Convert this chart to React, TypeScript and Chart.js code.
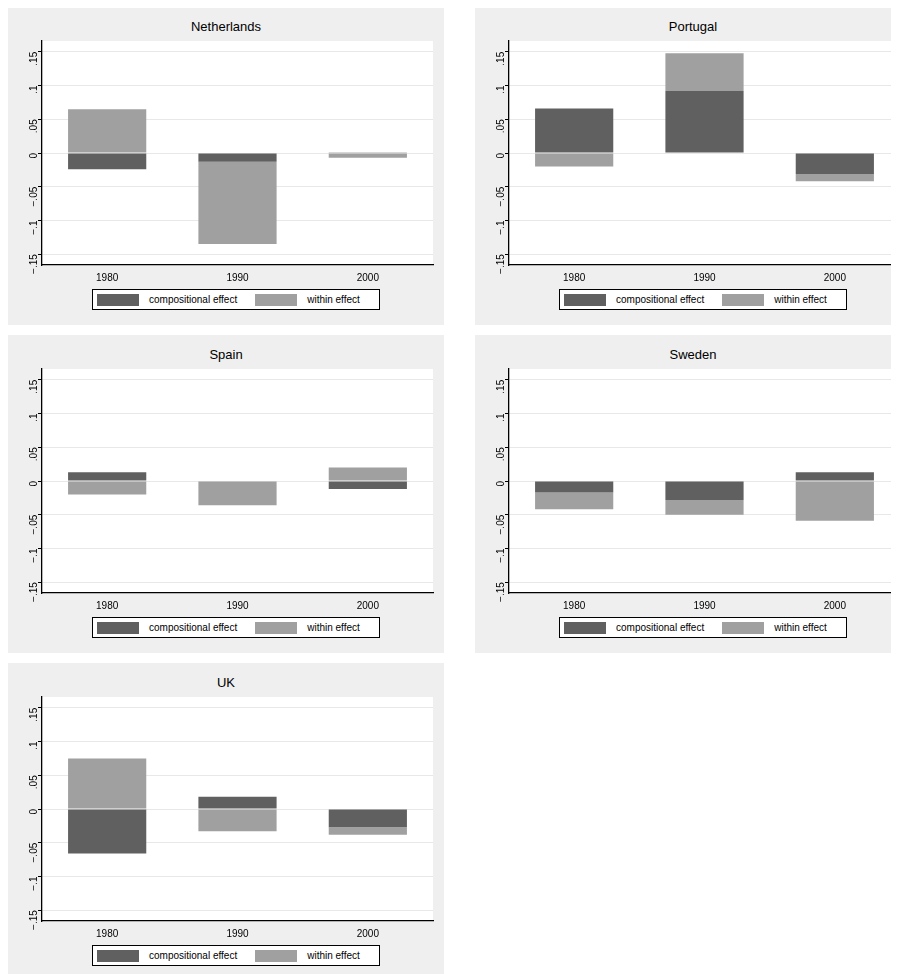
import { useEffect, useRef } from 'react';
import { Chart, registerables } from 'chart.js';

Chart.register(...registerables);

const years = ['1980', '1990', '2000'];
const yTicks = [-0.15, -0.1, -0.05, 0, 0.05, 0.1, 0.15];

const netherlandsComp = [-0.024, -0.013, 0.001];
const netherlandsWithin = [0.065, -0.122, -0.007];
const portugalComp = [0.066, 0.092, -0.031];
const portugalWithin = [-0.02, 0.056, -0.011];
const spainComp = [0.013, 0, -0.012];
const spainWithin = [-0.02, -0.036, 0.02];
const swedenComp = [-0.017, -0.028, 0.013];
const swedenWithin = [-0.025, -0.022, -0.059];
const ukComp = [-0.066, 0.018, -0.027];
const ukWithin = [0.075, -0.033, -0.011];

const DARK = '#606060';
const LIGHT = '#a0a0a0';

const fmt = (v: number) => {
  if (Math.abs(v) < 1e-9) return '0';
  const s = Math.abs(v).toString().replace(/^0/, '');
  return v < 0 ? '\u2212' + s : s;
};

// white plot region on the grey panel
const whiteArea = {
  id: 'whiteArea',
  beforeDraw(chart: Chart) {
    const { ctx, chartArea } = chart;
    ctx.save();
    ctx.fillStyle = '#fff';
    ctx.fillRect(chartArea.left, chartArea.top, chartArea.right - chartArea.left, chartArea.bottom - chartArea.top);
    ctx.restore();
  },
};

interface PanelProps {
  title: string;
  comp: number[];
  within: number[];
  left: number;
  top: number;
}

const Panel = ({ title, comp, within, left, top }: PanelProps) => {
  const canvasRef = useRef<HTMLCanvasElement | null>(null);

  useEffect(() => {
    if (!canvasRef.current) return;
    const chart = new Chart(canvasRef.current, {
      type: 'bar',
      data: {
        labels: years,
        datasets: [
          { label: 'compositional effect', data: comp, backgroundColor: DARK },
          { label: 'within effect', data: within, backgroundColor: LIGHT },
        ],
      },
      plugins: [whiteArea],
      options: {
        animation: false,
        responsive: false,
        layout: { padding: { left: 10, right: 11, top: 7 } },
        datasets: { bar: { categoryPercentage: 1, barPercentage: 0.6 } },
        plugins: { legend: { display: false }, tooltip: { enabled: false } },
        scales: {
          x: {
            stacked: true,
            grid: { display: false, drawOnChartArea: false, tickLength: 4, tickColor: '#000' },
            border: { color: '#000', width: 1.3 },
            ticks: { color: '#000', font: { family: 'Liberation Sans, Arial', size: 10 } },
          },
          y: {
            stacked: true,
            min: -0.166,
            max: 0.166,
            afterBuildTicks: (scale) => {
              scale.ticks = yTicks.map((v) => ({ value: v }));
            },
            grid: { color: '#e8e8e8', tickColor: '#000', tickLength: 4, lineWidth: 1 },
            border: { color: '#000', width: 1.3 },
            ticks: {
              color: '#000',
              minRotation: 90,
              maxRotation: 90,
              padding: 4,
              font: { family: 'Liberation Sans, Arial', size: 10 },
              callback: (v) => fmt(Number(v)),
            },
          },
        },
      },
    });
    return () => chart.destroy();
  }, [comp, within]);

  return (
    <div
      style={{
        position: 'absolute',
        left,
        top,
        width: 436,
        height: 318,
        background: '#efefef',
        fontFamily: 'Liberation Sans, Arial, sans-serif',
      }}
    >
      <div style={{ position: 'absolute', top: 12, width: 436, textAlign: 'center', fontSize: 13 }}>
        {title}
      </div>
      <canvas
        ref={canvasRef}
        width={436}
        height={256}
        style={{ position: 'absolute', left: 0, top: 24, width: 436, height: 256 }}
      />
      <div
        style={{
          position: 'absolute',
          left: 84,
          top: 282,
          width: 286,
          height: 19,
          background: '#fff',
          border: '1px solid #000',
          fontSize: 10,
          display: 'flex',
          alignItems: 'center',
        }}
      >
        <span style={{ width: 42, height: 12, background: DARK, marginLeft: 4 }} />
        <span style={{ marginLeft: 10 }}>compositional effect</span>
        <span style={{ width: 42, height: 12, background: LIGHT, marginLeft: 18 }} />
        <span style={{ marginLeft: 10 }}>within effect</span>
      </div>
    </div>
  );
};

export default function App() {
  return (
    <div style={{ position: 'relative', width: 891, height: 966, overflow: 'hidden' }}>
      <Panel title="Netherlands" comp={netherlandsComp} within={netherlandsWithin} left={0} top={-1} />
      <Panel title="Portugal" comp={portugalComp} within={portugalWithin} left={467} top={-1} />
      <Panel title="Spain" comp={spainComp} within={spainWithin} left={0} top={327} />
      <Panel title="Sweden" comp={swedenComp} within={swedenWithin} left={467} top={327} />
      <Panel title="UK" comp={ukComp} within={ukWithin} left={0} top={655} />
    </div>
  );
}
